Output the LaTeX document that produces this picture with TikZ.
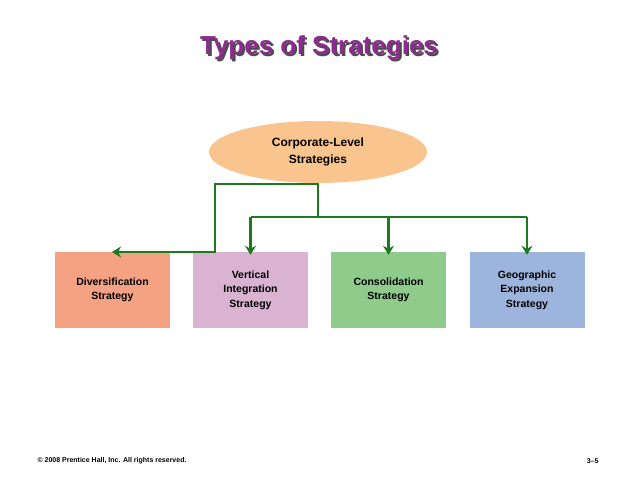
\documentclass[tikz,border=0pt]{standalone}
\usepackage{fontspec}
\setmainfont{Liberation Sans}
\usetikzlibrary{shapes.geometric,arrows.meta}
\definecolor{linegreen}{HTML}{1E7A1E}
\definecolor{peach}{HTML}{F9C48E}
\definecolor{salmon}{HTML}{F4A184}
\definecolor{pinkbox}{HTML}{D9B3D1}
\definecolor{greenbox}{HTML}{8FCB8A}
\definecolor{bluebox}{HTML}{9DB5DD}
\definecolor{titlepurple}{HTML}{8B2C8F}
\tikzset{
  stratbox/.style={minimum width=115pt, minimum height=76pt, align=center,
    font=\bfseries\fontsize{10.5}{14.5}\selectfont},
  link/.style={draw=linegreen, line width=2.6pt},
}
\begin{document}
\begin{tikzpicture}[x=1pt,y=-1pt,>={Stealth[length=9pt,width=11pt]}]
\useasboundingbox (0,0) rectangle (638,479);

\node (title_shadow) at (321,50) {\fontsize{26}{30}\selectfont\bfseries\color{black!70}Types of Strategies};
\node (title) at (319,48) {\fontsize{26}{30}\selectfont\bfseries\color{titlepurple}Types of Strategies};

\node[ellipse, fill=peach, minimum width=218pt, minimum height=62pt, align=center,
  font=\bfseries\fontsize{12}{16.5}\selectfont] (corp) at (318,152) {Corporate-Level\\Strategies};

\node[stratbox, fill=salmon] (divers) at (112.5,290) {Diversification\\Strategy};
\node[stratbox, fill=pinkbox] (vert) at (250.5,290) {Vertical\\Integration\\Strategy};
\node[stratbox, fill=greenbox] (consol) at (388.5,290) {Consolidation\\Strategy};
\node[stratbox, fill=bluebox] (geo) at (527,290) {Geographic\\Expansion\\Strategy};

% connectors
\coordinate (hub) at (318,217);
\draw[link] (corp.south) -- (hub);
\draw[link] (vert.north |- hub) -- (geo.north |- hub);
\foreach \b in {vert,consol,geo}
  \draw[link,->] (\b.north |- hub) -- ([yshift=-3pt]\b.north);
\draw[link,->] (318,184) -| (215,252) -- (112,252);

\node[anchor=west, font=\bfseries\fontsize{7}{8}\selectfont] (copy) at (34,461) {© 2008 Prentice Hall, Inc. All rights reserved.};
\node[anchor=east, font=\bfseries\fontsize{7}{8}\selectfont] (page) at (602,461) {3–5};
\end{tikzpicture}
\end{document}
